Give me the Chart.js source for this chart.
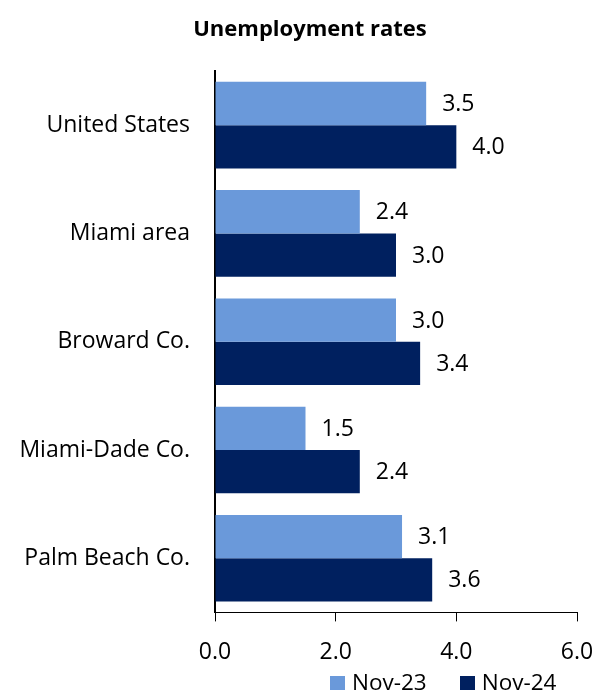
<!DOCTYPE html>
<html>
<head>
<meta charset="utf-8">
<script src="https://cdn.jsdelivr.net/npm/chart.js@4"></script>
<style>
  html, body { margin: 0; padding: 0; background: #fff; overflow: hidden; }
  #wrap { position: relative; width: 595px; height: 690px; }
  #box { width: 595px; height: 683px; }
  #title { position: absolute; left: 210px; width: 200px; top: 13px; white-space: nowrap; display: flex; justify-content: center;
           font: bold 22px "Open Sans", "Liberation Sans", sans-serif; color: #000; line-height: 28px; }
  #legend { position: absolute; left: 330px; top: 669px; font: 22.5px "Open Sans", "Liberation Sans", sans-serif; color: #000; white-space: nowrap; line-height: 26px; }
  #legend span.sw { display: inline-block; width: 15px; height: 15px; margin-right: 7px; vertical-align: -1px; }
  #legend span.item { margin-right: 33px; }
</style>
</head>
<body>
<div id="wrap">
  <div id="box"><canvas id="unempChart"></canvas></div>
  <div id="title">Unemployment rates</div>
  <div id="legend"></div>
</div>
<script>
// Unemployment rates, Nov-23 vs Nov-24
const categories = ['United States', 'Miami area', 'Broward Co.', 'Miami-Dade Co.', 'Palm Beach Co.'];
const nov23 = [3.5, 2.4, 3.0, 1.5, 3.1];
const nov24 = [4.0, 3.0, 3.4, 2.4, 3.6];
const seriesNames = ['Nov-23', 'Nov-24'];
const xTicks = [0, 2, 4, 6];

const FONT = '"Open Sans", "Liberation Sans", sans-serif';

// value labels to the right of each bar
const barLabels = {
  id: 'barLabels',
  afterDatasetsDraw(chart) {
    const c = chart.ctx;
    c.save();
    c.font = '23px ' + FONT;
    c.fillStyle = '#000';
    c.textBaseline = 'middle';
    c.textAlign = 'left';
    chart.data.datasets.forEach((ds, i) => {
      chart.getDatasetMeta(i).data.forEach((bar, j) => {
        c.fillText(ds.data[j].toFixed(1), bar.x + 16, bar.y + 1);
      });
    });
    c.restore();
  }
};

const ctx = document.getElementById('unempChart').getContext('2d');
const unempChart = new Chart(ctx, {
  type: 'bar',
  data: {
    labels: categories,
    datasets: [{
      label: seriesNames[0],
      data: nov23,
      backgroundColor: '#6a99da',
      categoryPercentage: 0.8,
      barPercentage: 1.0
    }, {
      label: seriesNames[1],
      data: nov24,
      backgroundColor: '#00205f',
      categoryPercentage: 0.8,
      barPercentage: 1.0
    }]
  },
  options: {
    indexAxis: 'y',
    responsive: true,
    maintainAspectRatio: false,
    animation: false,
    layout: { padding: { top: 71, left: 0, right: 0, bottom: 0 } },
    scales: {
      x: {
        min: xTicks[0],
        max: xTicks[xTicks.length - 1],
        afterBuildTicks: s => { s.ticks = xTicks.map(v => ({ value: v })); },
        afterFit: s => { s.paddingRight = 18; },
        ticks: {
          color: '#000',
          font: { family: FONT, size: 23 },
          padding: 17,
          maxRotation: 0,
          callback: v => v.toFixed(1)
        },
        grid: { drawOnChartArea: false, drawTicks: true, tickLength: 9, color: '#000' },
        border: { color: '#000', width: 1 }
      },
      y: {
        afterFit: s => { s.width = 215; },
        ticks: { color: '#000', font: { family: FONT, size: 23 }, padding: 25 },
        grid: { display: false, drawTicks: false },
        border: { color: '#000', width: 2 }
      }
    },
    plugins: {
      title: { display: false },
      legend: { display: false },
      tooltip: { enabled: false }
    }
  },
  plugins: [barLabels]
});

// legend under the axis
const legendEl = document.getElementById('legend');
unempChart.data.datasets.forEach(ds => {
  const item = document.createElement('span');
  item.className = 'item';
  const sw = document.createElement('span');
  sw.className = 'sw';
  sw.style.background = ds.backgroundColor;
  item.appendChild(sw);
  item.appendChild(document.createTextNode(ds.label));
  legendEl.appendChild(item);
});
</script>
</body>
</html>
